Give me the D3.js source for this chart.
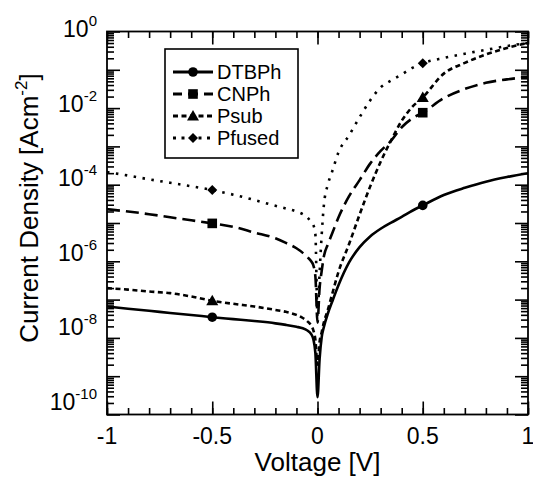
<!DOCTYPE html>
<html><head><meta charset="utf-8">
<script src="https://cdn.jsdelivr.net/npm/d3@7"></script>
</head>
<body style="margin:0;background:#fff">
<svg id="c" width="533" height="477"></svg>
<script>
// ---- data (current density given as log10 of A cm^-2) ----
const voltage = [-1,-0.9,-0.8,-0.7,-0.6,-0.5,-0.4,-0.3,-0.2,-0.15,-0.1,-0.07,-0.05,-0.03,-0.02,-0.01,0,
                 0.01,0.02,0.03,0.05,0.07,0.1,0.15,0.2,0.25,0.3,0.35,0.4,0.45,0.5,0.6,0.7,0.8,0.9,1];
const dtbphLog = [-7.18,-7.24,-7.29,-7.35,-7.40,-7.46,-7.51,-7.56,-7.62,-7.66,-7.71,-7.75,-7.80,-7.90,-8.03,-8.40,-9.55,
                  -8.55,-7.98,-7.72,-7.35,-7.05,-6.62,-6.03,-5.63,-5.35,-5.15,-4.99,-4.84,-4.68,-4.54,-4.27,-4.08,-3.92,-3.80,-3.70];
const cnphLog  = [-4.64,-4.70,-4.77,-4.85,-4.93,-5.01,-5.10,-5.25,-5.40,-5.52,-5.66,-5.78,-5.88,-6.00,-6.10,-6.40,-7.60,
                  -6.70,-6.25,-5.88,-5.55,-5.27,-4.85,-4.30,-3.88,-3.45,-3.12,-2.85,-2.50,-2.27,-2.12,-1.74,-1.50,-1.34,-1.25,-1.19];
const psubLog  = [-6.70,-6.74,-6.79,-6.83,-6.92,-7.03,-7.11,-7.18,-7.27,-7.32,-7.40,-7.48,-7.56,-7.68,-7.80,-8.05,-8.70,
                  -8.10,-7.85,-7.60,-7.25,-6.85,-6.27,-5.55,-4.78,-4.05,-3.40,-2.84,-2.33,-1.97,-1.72,-1.10,-0.82,-0.60,-0.43,-0.30];
const pfusedLog= [-3.67,-3.76,-3.86,-3.95,-4.04,-4.14,-4.26,-4.40,-4.55,-4.62,-4.70,-4.77,-4.84,-4.98,-5.05,-5.30,-7.40,
                  -6.30,-5.30,-4.55,-3.98,-3.65,-3.15,-2.71,-2.24,-1.80,-1.46,-1.28,-1.12,-0.95,-0.83,-0.69,-0.58,-0.48,-0.38,-0.30];
const seriesNames = ["DTBPh","CNPh","Psub","Pfused"];
const markerVoltages = [-0.5, 0.5];
const xTickLabels = ["-1","-0.5","0","0.5","1"];
const xTickValues = [-1,-0.5,0,0.5,1];
const yTickExponents = [0,-2,-4,-6,-8,-10];

// ---- layout ----
const FONT = "Liberation Sans, Arial, Helvetica, sans-serif";
const svg = d3.select("#c");
const L=107, R=528, T=31.5, B=414.5;
const x = d3.scaleLinear().domain([-1,1]).range([L,R]);
const y = d3.scaleLog().domain([1e-10,1]).range([B,T]);

const styles = {
  DTBPh: {dash:null, marker:"circle"},
  CNPh:  {dash:"13,6", marker:"square"},
  Psub:  {dash:"5,3.5", marker:"triangle"},
  Pfused:{dash:"2.5,6.5", marker:"diamond"}
};
const allLogs = {DTBPh:dtbphLog, CNPh:cnphLog, Psub:psubLog, Pfused:pfusedLog};

svg.append("defs").append("clipPath").attr("id","clip")
  .append("rect").attr("x",L).attr("y",T).attr("width",R-L).attr("height",B-T);

// ---- series ----
const line = d3.line().x(d=>x(d[0])).y(d=>y(d[1])).curve(d3.curveMonotoneX);
const plot = svg.append("g").attr("clip-path","url(#clip)");

function drawMarker(g, type, cx, cy){
  if(type==="circle") g.append("circle").attr("cx",cx).attr("cy",cy).attr("r",4.8);
  else if(type==="square") g.append("rect").attr("x",cx-4.8).attr("y",cy-4.8).attr("width",9.6).attr("height",9.6);
  else if(type==="triangle") g.append("path").attr("d",`M${cx},${cy-6}L${cx+6},${cy+4.5}L${cx-6},${cy+4.5}Z`);
  else if(type==="diamond") g.append("path").attr("d",`M${cx},${cy-5}L${cx+5},${cy}L${cx},${cy+5}L${cx-5},${cy}Z`);
}

seriesNames.slice().reverse().forEach(name=>{
  const vals = allLogs[name];
  const pts = voltage.map((v,i)=>[v, Math.pow(10, vals[i])]);
  const p = plot.append("path").attr("d",line(pts)).attr("fill","none")
    .attr("stroke","#000").attr("stroke-width",2.6);
  if(styles[name].dash) p.attr("stroke-dasharray",styles[name].dash);
  const mg = plot.append("g").attr("fill","#000");
  markerVoltages.forEach(mv=>{
    const i = voltage.indexOf(mv);
    drawMarker(mg, styles[name].marker, x(voltage[i]), y(Math.pow(10, vals[i])));
  });
});

// ---- frame ----
svg.append("rect").attr("x",L).attr("y",T).attr("width",R-L).attr("height",B-T)
  .attr("fill","none").attr("stroke","#000").attr("stroke-width",1.8);

// ---- ticks through d3 axes (inward, no labels) ----
const xMinorVals = d3.range(-10,11).map(k=>k/10);
const yMajorVals = d3.range(-10,1).map(e=>Math.pow(10,e));
const yMinorVals = [];
d3.range(-10,0).forEach(e=>{ for(let m=2;m<=9;m++) yMinorVals.push(m*Math.pow(10,e)); });

function tickAxis(axis, tx, ty){
  const g = svg.append("g").attr("transform",`translate(${tx},${ty})`).attr("color","#000")
    .call(axis.tickFormat(()=>""));
  g.select(".domain").remove();
  g.selectAll("text").remove();
  g.selectAll("line").attr("stroke","#000").attr("stroke-width",1.6);
}
tickAxis(d3.axisBottom(x).tickValues(xMinorVals).tickSize(-6.5), 0, B);
tickAxis(d3.axisBottom(x).tickValues(xTickValues).tickSize(-13), 0, B);
tickAxis(d3.axisTop(x).tickValues(xMinorVals).tickSize(-6.5), 0, T);
tickAxis(d3.axisTop(x).tickValues(xTickValues).tickSize(-13), 0, T);
tickAxis(d3.axisLeft(y).tickValues(yMinorVals).tickSize(-7), L, 0);
tickAxis(d3.axisLeft(y).tickValues(yMajorVals).tickSize(-13), L, 0);
tickAxis(d3.axisRight(y).tickValues(yMinorVals).tickSize(-7), R, 0);
tickAxis(d3.axisRight(y).tickValues(yMajorVals).tickSize(-13), R, 0);

// ---- tick labels ----
xTickValues.forEach((v,i)=>{
  svg.append("text").attr("x",x(v)).attr("y",444).attr("text-anchor","middle")
    .attr("font-family",FONT).attr("font-size",23).text(xTickLabels[i]);
});
yTickExponents.forEach(e=>{
  const yy = y(Math.pow(10,e));
  const t = svg.append("text").attr("x",97).attr("y",yy+5.5-0.027*(yy-T)).attr("text-anchor","end")
    .attr("font-family",FONT).attr("font-size",23);
  t.append("tspan").text("10");
  t.append("tspan").attr("font-size",15).attr("dy",-11).text(e===0?"0":"-"+(-e));
});

// ---- axis titles ----
svg.append("text").attr("x",x(0)).attr("y",471).attr("text-anchor","middle")
  .attr("font-family",FONT).attr("font-size",26).text("Voltage [V]");
const yt = svg.append("text").attr("transform","translate(38,208) rotate(-90)")
  .attr("text-anchor","middle").attr("font-family",FONT).attr("font-size",26);
yt.append("tspan").text("Current Density [Acm");
yt.append("tspan").attr("font-size",17).attr("dy",-11).text("-2");
yt.append("tspan").attr("dy",11).text("]");

// ---- legend ----
const lg = svg.append("g");
lg.append("rect").attr("x",165).attr("y",49).attr("width",133).attr("height",109)
  .attr("fill","#fff").attr("stroke","#000").attr("stroke-width",1.6);
seriesNames.forEach((name,i)=>{
  const cy = 72 + i*22;
  const l = lg.append("line").attr("x1",173).attr("x2",213).attr("y1",cy).attr("y2",cy)
    .attr("stroke","#000").attr("stroke-width",3);
  if(name==="CNPh") l.attr("stroke-dasharray","9,6,10,6,9");
  if(name==="Psub") l.attr("stroke-dasharray","5,3.5");
  if(name==="Pfused") l.attr("stroke-dasharray","3,5.5");
  const mg = lg.append("g").attr("fill","#000");
  drawMarker(mg, styles[name].marker, 193, cy);
  lg.append("text").attr("x",217).attr("y",cy+7).attr("font-family",FONT).attr("font-size",20).text(name);
});
</script>
</body></html>
